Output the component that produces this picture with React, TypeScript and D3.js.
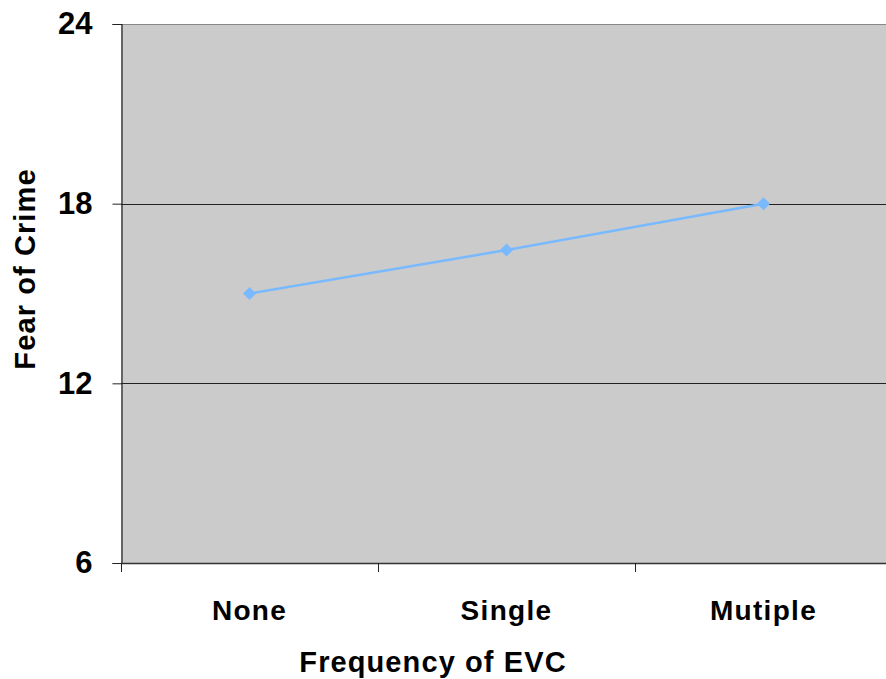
import React, { useEffect, useRef } from "react";
import * as d3 from "d3";

const categories = ["None", "Single", "Mutiple"];
const fearValues = [15.0, 16.45, 18.0];
const yTicks = [6, 12, 18, 24];

const W = 886;
const H = 679;
const FONT = "'Liberation Sans', Arial, Helvetica, sans-serif";

export default function App() {
  const ref = useRef<SVGSVGElement>(null);

  useEffect(() => {
    const svg = d3.select(ref.current);
    svg.selectAll("*").remove();

    const left = 121;
    const top = 24;
    const bottom = 563;
    const bandW = 257;

    const x = d3
      .scaleBand()
      .domain(categories)
      .range([left, left + bandW * categories.length])
      .padding(0);
    const y = d3.scaleLinear().domain([6, 24]).range([bottom, top]);

    // plot area
    svg
      .append("rect")
      .attr("x", left)
      .attr("y", top)
      .attr("width", W - left)
      .attr("height", bottom - top)
      .attr("fill", "#cbcbcb");

    // gridlines
    svg
      .selectAll(".grid")
      .data(yTicks.filter((t) => t !== 6 && t !== 24))
      .enter()
      .append("line")
      .attr("x1", left)
      .attr("x2", W)
      .attr("y1", (d) => Math.round(y(d)) + 0.5)
      .attr("y2", (d) => Math.round(y(d)) + 0.5)
      .attr("stroke", "#222")
      .attr("stroke-width", 1.2);

    // top border
    svg
      .append("line")
      .attr("x1", left)
      .attr("x2", W)
      .attr("y1", top + 0.5)
      .attr("y2", top + 0.5)
      .attr("stroke", "#888")
      .attr("stroke-width", 1.2);

    // y axis
    const yAxis = svg
      .append("g")
      .attr("transform", `translate(${left + 0.5},0)`)
      .call(
        d3
          .axisLeft(y)
          .tickValues(yTicks)
          .tickSize(9)
          .tickPadding(20)
          .tickFormat(d3.format("d"))
      );
    yAxis.select(".domain").attr("stroke", "#222").attr("stroke-width", 1.2);
    yAxis.selectAll(".tick line").attr("stroke", "#222");
    yAxis
      .selectAll("text")
      .attr("font-family", FONT)
      .attr("font-size", 31)
      .attr("font-weight", "bold")
      .attr("fill", "#000");

    // x axis
    const xAxis = svg
      .append("g")
      .attr("transform", `translate(0,${bottom + 0.5})`)
      .call(d3.axisBottom(x).tickSize(0).tickPadding(0));
    xAxis.select(".domain").remove();
    xAxis
      .selectAll("text")
      .attr("dy", null)
      .attr("y", 56)
      .attr("font-family", FONT)
      .attr("font-size", 28)
      .attr("letter-spacing", 1.3)
      .attr("font-weight", "bold")
      .attr("fill", "#000");

    svg
      .append("line")
      .attr("x1", left)
      .attr("x2", W)
      .attr("y1", bottom + 0.5)
      .attr("y2", bottom + 0.5)
      .attr("stroke", "#333")
      .attr("stroke-width", 1.4);

    // category separators on x axis
    svg
      .selectAll(".xtick")
      .data(categories)
      .enter()
      .append("line")
      .attr("x1", (d) => Math.round(x(d) as number) + 0.5)
      .attr("x2", (d) => Math.round(x(d) as number) + 0.5)
      .attr("y1", bottom)
      .attr("y2", bottom + 9)
      .attr("stroke", "#222");

    // line
    const cx = (d: string) => (x(d) as number) + x.bandwidth() / 2;
    const line = d3
      .line<number>()
      .x((_, i) => cx(categories[i]))
      .y((d) => y(d));
    svg
      .append("path")
      .datum(fearValues)
      .attr("d", line)
      .attr("fill", "none")
      .attr("stroke", "#78b9ff")
      .attr("stroke-width", 2.5);

    svg
      .selectAll(".pt")
      .data(fearValues)
      .enter()
      .append("path")
      .attr("d", d3.symbol(d3.symbolSquare, 84)())
      .attr(
        "transform",
        (d, i) => `translate(${cx(categories[i])},${y(d)}) rotate(45)`
      )
      .attr("fill", "#78b9ff");

    // axis titles
    svg
      .append("text")
      .attr("x", 433)
      .attr("y", 672)
      .attr("text-anchor", "middle")
      .attr("font-family", FONT)
      .attr("font-size", 29)
      .attr("letter-spacing", 1.1)
      .attr("font-weight", "bold")
      .text("Frequency of EVC");

    svg
      .append("text")
      .attr("transform", `translate(35,269) rotate(-90)`)
      .attr("text-anchor", "middle")
      .attr("font-family", FONT)
      .attr("font-size", 29)
      .attr("letter-spacing", 1.1)
      .attr("font-weight", "bold")
      .text("Fear of Crime");
  }, []);

  return (
    <svg
      ref={ref}
      width={W}
      height={H}
      style={{ position: "absolute", left: 0, top: 0, background: "#fff" }}
    />
  );
}
